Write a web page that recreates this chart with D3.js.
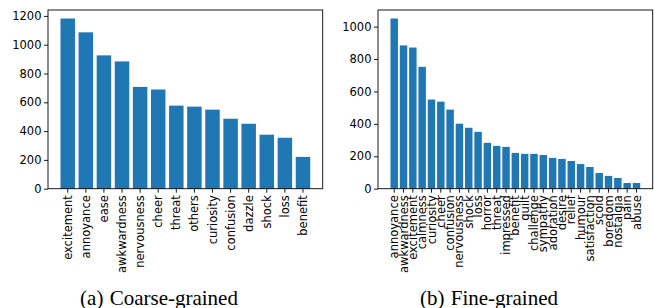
<!DOCTYPE html>
<html>
<head>
<meta charset="utf-8">
<script src="https://cdn.jsdelivr.net/npm/d3@7"></script>
<style>
    body { margin: 0; background: #fff; }
    svg { display: block; }
    .tick text { font-family: "DejaVu Sans", sans-serif; font-size: 11.5px; fill: #000; }
    .caption { font-family: "Liberation Serif", "Times New Roman", serif; font-size: 21px; word-spacing: 1px; fill: #000; }
</style>
</head>
<body>
<div id="chart"></div>
<script>
// Coarse-grained emotion counts
const coarseLabels = ['excitement', 'annoyance', 'ease', 'awkwardness', 'nervousness', 'cheer',
    'threat', 'others', 'curiosity', 'confusion', 'dazzle', 'shock', 'loss', 'benefit'];
const coarseValues = [1182, 1086, 926, 884, 707, 689, 577, 570, 549, 486, 451, 375, 354, 221];
const coarseTicks = [0, 200, 400, 600, 800, 1000, 1200];

// Fine-grained emotion counts
const fineLabels = ['annoyance', 'awkwardness', 'excitement', 'calmness', 'curiosity', 'cheer',
    'confusion', 'nervousness', 'shock', 'loss', 'horror', 'threat', 'impressed', 'benefit',
    'guilt', 'challenge', 'sympathy', 'adoration', 'desire', 'relief', 'humour', 'satisfaction',
    'scold', 'boredom', 'nostalgia', 'pain', 'abuse'];
const fineValues = [1050, 884, 871, 752, 550, 537, 488, 401, 376, 351, 283, 264, 258, 221,
    215, 215, 208, 190, 184, 171, 152, 134, 97, 79, 66, 35, 35];
const fineTicks = [0, 200, 400, 600, 800, 1000];

const width = 654;
const height = 308;
const barColor = '#1f77b4';

const svg = d3.select('#chart')
    .append('svg')
    .attr('width', width)
    .attr('height', height);

function drawPanel(left, labels, values, ticks, caption, captionX) {
    const top = 10, bottom = 188.7, right = left + 274.7;
    const n = labels.length;

    // matplotlib-like margins: 5% of the data span on each side
    const x = d3.scaleBand()
        .domain(labels)
        .range([left, right])
        .paddingInner(0.2)
        .paddingOuter(0.05 * (n - 0.2));

    const y = d3.scaleLinear()
        .domain([0, d3.max(values) * 1.05])
        .range([bottom, top]);

    const g = svg.append('g');

    g.selectAll('rect')
        .data(values)
        .enter()
        .append('rect')
        .attr('x', (d, i) => x(labels[i]))
        .attr('y', d => y(d))
        .attr('width', x.bandwidth())
        .attr('height', d => y(0) - y(d))
        .attr('fill', barColor);

    // y axis
    const yAxis = g.append('g')
        .attr('transform', `translate(${left},0)`)
        .call(d3.axisLeft(y).tickValues(ticks).tickSize(4).tickPadding(2.5).tickFormat(d3.format('d')));
    yAxis.select('.domain').remove();

    // x axis with rotated labels
    const xAxis = g.append('g')
        .attr('transform', `translate(0,${bottom})`)
        .call(d3.axisBottom(x).tickSize(4).tickPadding(0));
    xAxis.select('.domain').remove();
    xAxis.selectAll('.tick text')
        .attr('transform', 'translate(0,6.5) rotate(-90)')
        .attr('x', 0)
        .attr('y', 0)
        .attr('dy', '0.35em')
        .attr('text-anchor', 'end');

    g.selectAll('.tick line').attr('stroke', '#000').attr('stroke-width', 0.9);

    // frame
    g.append('rect')
        .attr('x', left)
        .attr('y', top)
        .attr('width', right - left)
        .attr('height', bottom - top)
        .attr('fill', 'none')
        .attr('stroke', '#000')
        .attr('stroke-width', 0.9);

    svg.append('text')
        .attr('class', 'caption')
        .attr('x', captionX)
        .attr('y', 304.5)
        .attr('text-anchor', 'middle')
        .text(caption);
}

drawPanel(48, coarseLabels, coarseValues, coarseTicks, '(a) Coarse-grained', 159);
drawPanel(378, fineLabels, fineValues, fineTicks, '(b) Fine-grained', 489);
</script>
</body>
</html>
